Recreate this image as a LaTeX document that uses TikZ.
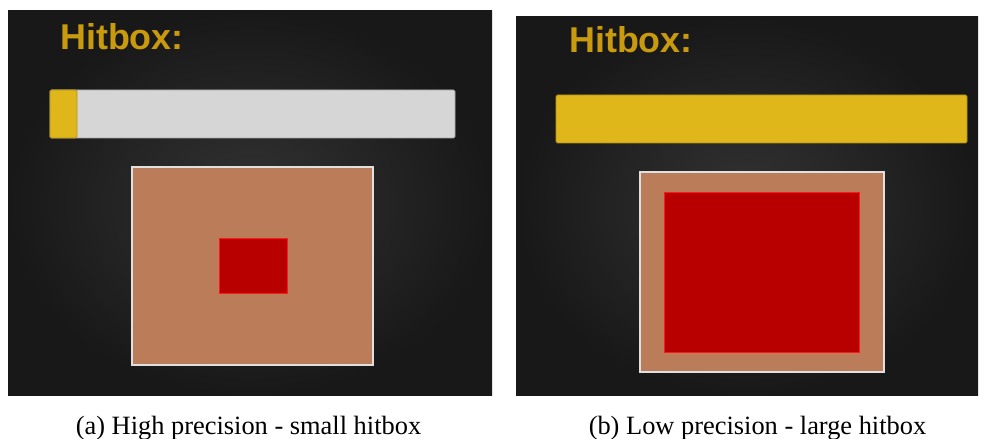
\documentclass[tikz,border=0pt]{standalone}
\usepackage{fontspec}
\setmainfont{Liberation Serif}
\newfontfamily\labelfont{Liberation Sans}
\usetikzlibrary{shadings}
\definecolor{bgmid}{HTML}{333333}
\definecolor{bgedge}{HTML}{181818}
\definecolor{gold}{HTML}{C99A0E}
\definecolor{barfill}{HTML}{DFB71A}
\definecolor{bartrack}{HTML}{D6D6D6}
\definecolor{skin}{HTML}{BB7C5A}
\definecolor{hitred}{HTML}{B90000}
\definecolor{hitedge}{HTML}{FF1A1A}
\tikzset{
  panel/.style={inner color=bgmid, outer color=bgedge},
  title/.style={font=\labelfont\bfseries\fontsize{36}{38}\selectfont, text=gold, anchor=base west, inner sep=0pt},
  track/.style={fill=bartrack, draw=gray!70, line width=0.8bp, rounded corners=1.5bp},
  meter/.style={fill=barfill, draw=barfill!80!black, line width=0.8bp, rounded corners=1.5bp},
  target/.style={fill=skin, draw=white!88!black, line width=1.6bp},
  hitbox/.style={fill=hitred, draw=hitedge, line width=0.9bp},
  caption/.style={font=\fontsize{26.5}{28}\selectfont, anchor=base, inner sep=0pt}
}
\begin{document}
\begin{tikzpicture}[x=1bp,y=-1bp]
\useasboundingbox[fill=white] (0,0) rectangle (985,439);

% left panel: high precision
\shade[panel] (8,11) rectangle (492,396);
\node[title] (titleA) at (60,50) {Hitbox:};
\draw[track] (50,90) rectangle (455,138);
\draw[meter] (50,90) rectangle (77,138);
\draw[target] (132,167) rectangle (373,365);
\draw[hitbox] (219,238) rectangle (287,293);
\node[caption] (capA) at (248.5,434) {(a) High precision - small hitbox};

% right panel: low precision
\shade[panel] (516,17) rectangle (978,396);
\node[title] (titleB) at (569,53) {Hitbox:};
\draw[meter] (556,95) rectangle (967,143);
\draw[target] (640,172) rectangle (884,372);
\draw[hitbox] (664,192) rectangle (859,352);
\node[caption] (capB) at (757.5,434) {(b) Low precision - large hitbox};
\end{tikzpicture}
\end{document}
